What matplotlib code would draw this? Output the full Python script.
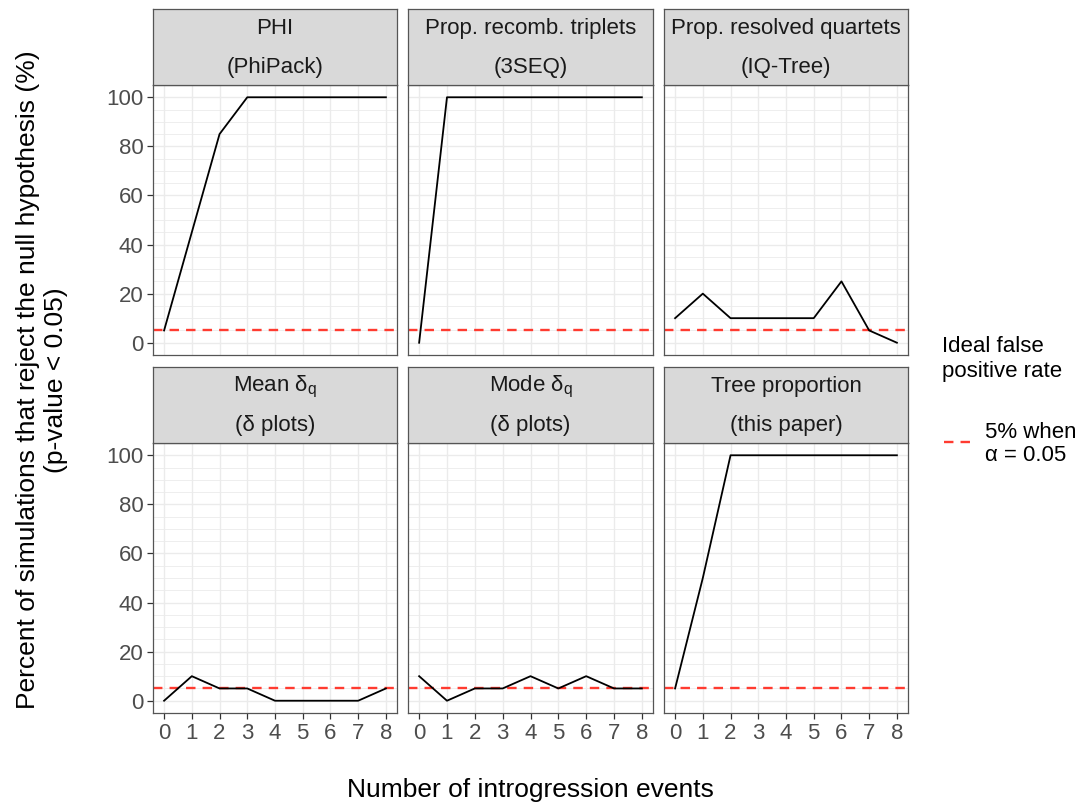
import matplotlib
matplotlib.use("Agg")
import matplotlib.pyplot as plt
from matplotlib.lines import Line2D
import numpy as np

plt.rcParams['font.family'] = ['Liberation Sans', 'DejaVu Sans']
plt.rcParams['mathtext.fontset'] = 'custom'
plt.rcParams['mathtext.rm'] = 'Liberation Sans'
plt.rcParams['mathtext.it'] = 'Liberation Sans'

# data
events = [0, 1, 2, 3, 4, 5, 6, 7, 8]
phi = [5, 45, 85, 100, 100, 100, 100, 100, 100]
triplets = [0, 100, 100, 100, 100, 100, 100, 100, 100]
quartets = [10, 20, 10, 10, 10, 10, 25, 5, 0]
mean_dq = [0, 10, 5, 5, 0, 0, 0, 0, 5]
mode_dq = [10, 0, 5, 5, 10, 5, 10, 5, 5]
tree_prop = [5, 50, 100, 100, 100, 100, 100, 100, 100]

titles = [("PHI", "(PhiPack)"),
          ("Prop. recomb. triplets", "(3SEQ)"),
          ("Prop. resolved quartets", "(IQ-Tree)"),
          (r"Mean $\delta_{\mathrm{q}}$", "(δ plots)"),
          (r"Mode $\delta_{\mathrm{q}}$", "(δ plots)"),
          ("Tree proportion", "(this paper)")]
series = [phi, triplets, quartets, mean_dq, mode_dq, tree_prop]
ideal_rate = 5

W, H = 1088, 809
fig = plt.figure(figsize=(W / 100, H / 100), dpi=100)

cols = [(153, 397), (408, 653), (664, 908)]
rows = [(85, 355), (443, 713)]   # panel top/bottom in px
strip_h = 76

border = '#555555'
red = '#FF3B30'

for i in range(6):
    r, c = divmod(i, 3)
    x0, x1 = cols[c]
    top, bot = rows[r]
    ax = fig.add_axes([x0 / W, 1 - bot / H, (x1 - x0) / W, (bot - top) / H])
    ax.set_xlim(-0.4, 8.4)
    ax.set_ylim(-5, 105)
    # grid
    for yv in np.arange(-5, 106, 5):
        lw = 1.0 if yv % 20 == 0 else 0.6
        ax.axhline(yv, color='#EBEBEB', lw=lw, zorder=0)
    for xv in events:
        ax.axvline(xv, color='#EBEBEB', lw=1.0, zorder=0)
    ax.axhline(ideal_rate, color=red, lw=1.7, ls=(0, (4, 3)), zorder=2)
    ax.plot(events, series[i], color='black', lw=1.3, zorder=3)
    for s in ax.spines.values():
        s.set_color(border)
        s.set_linewidth(0.9)
    ax.set_xticks(events)
    ax.set_yticks([0, 20, 40, 60, 80, 100])
    ax.tick_params(colors='#333333', labelcolor='#4D4D4D', labelsize=16,
                   length=4, width=0.9, pad=3)
    if r == 0:
        ax.tick_params(axis='x', bottom=False, labelbottom=False)
    if c != 0:
        ax.tick_params(axis='y', left=False, labelleft=False)

    # strip
    sax = fig.add_axes([x0 / W, 1 - top / H, (x1 - x0) / W, strip_h / H])
    sax.set_facecolor('#D9D9D9')
    sax.set_xticks([])
    sax.set_yticks([])
    for s in sax.spines.values():
        s.set_color(border)
        s.set_linewidth(0.9)
    sax.text(0.5, 0.74, titles[i][0], ha='center', va='center', fontsize=16,
             color='#1A1A1A', transform=sax.transAxes)
    sax.text(0.5, 0.23, titles[i][1], ha='center', va='center', fontsize=16,
             color='#1A1A1A', transform=sax.transAxes)

# axis titles
fig.text(530 / W, 1 - 790 / H, "Number of introgression events",
         ha='center', va='center', fontsize=19)
fig.text(42 / W, 1 - 380 / H,
         "Percent of simulations that reject the null hypothesis (%)\n(p-value < 0.05)",
         ha='center', va='center', fontsize=19, rotation=90, linespacing=1.2)

# legend
fig.text(942 / W, 1 - 359 / H, "Ideal false\npositive rate", ha='left', va='center',
         fontsize=16, linespacing=1.25)
fig.add_artist(Line2D([944 / W, 970 / W], [1 - 442 / H, 1 - 442 / H],
                      color=red, lw=1.7, ls=(0, (4, 3))))
fig.text(985 / W, 1 - 444 / H, "5% when\nα = 0.05", ha='left', va='center',
         fontsize=16, linespacing=1.1)

fig.savefig("out.png", dpi=100)
